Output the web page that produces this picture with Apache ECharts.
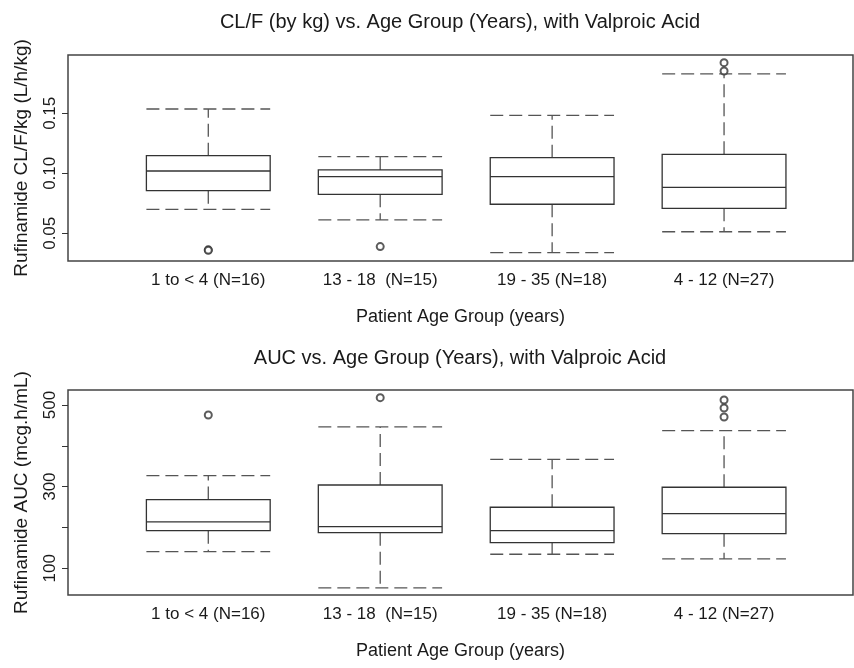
<!DOCTYPE html>
<html>
<head>
<meta charset="utf-8">
<script src="https://cdn.jsdelivr.net/npm/echarts@6/dist/echarts.min.js"></script>
<style>
  html, body { margin: 0; padding: 0; background: #fff; }
  #chart { width: 854px; height: 668px; }
</style>
</head>
<body>
<div id="chart"></div>
<script>
// age groups, in the order they are plotted
var categories = ['1 to < 4 (N=16)', '13 - 18  (N=15)', '19 - 35 (N=18)', '4 - 12 (N=27)'];

// CL/F per kg: whisker ends, quartiles, median
var clfMin = [0.0700, 0.0611, 0.0338, 0.0513];
var clfQ1 = [0.0855, 0.0825, 0.0742, 0.0708];
var clfMed = [0.1019, 0.0972, 0.0972, 0.0883];
var clfQ3 = [0.1147, 0.1028, 0.1130, 0.1158];
var clfMax = [0.1536, 0.1139, 0.1483, 0.1828];
var clfOutliers = [[0, 0.0362], [0, 0.0358], [1, 0.0389], [3, 0.1853], [3, 0.1922]];
var clfTicks = [0.05, 0.10, 0.15];

// AUC
var aucMin = [140.8, 51.9, 134.4, 122.9];
var aucQ1 = [192.2, 187.3, 162.8, 184.9];
var aucMed = [213.5, 202.0, 192.2, 233.9];
var aucQ3 = [268.2, 304.0, 249.5, 298.5];
var aucMax = [326.9, 446.2, 367.0, 437.1];
var aucOutliers = [[0, 475.6], [1, 518.0], [3, 470.7], [3, 492.7], [3, 512.3]];
var aucTicks = [100, 200, 300, 400, 500];
var aucTickLabels = [100, 300, 500];

var FONT = "'Liberation Sans', Arial, sans-serif";
var TEXT = '#1a1a1a';
var BOX_FRAC = 0.72; // box width in category units

function boxRows(mn, q1, med, q3, mx) {
    var rows = [];
    for (var i = 0; i < categories.length; i++) {
        rows.push([i, mn[i], q1[i], med[i], q3[i], mx[i]]);
    }
    return rows;
}

// box solid, whiskers and staples dashed (R style)
function renderBox(params, api) {
    var i = api.value(0);
    var half = api.size([1, 0])[0] * BOX_FRAC / 2;
    var pMin = api.coord([i, api.value(1)]);
    var pQ1 = api.coord([i, api.value(2)]);
    var pMed = api.coord([i, api.value(3)]);
    var pQ3 = api.coord([i, api.value(4)]);
    var pMax = api.coord([i, api.value(5)]);
    var x = pMed[0];
    var dashed = { stroke: '#555', lineWidth: 1.3, lineDash: [13, 6], fill: null };
    var solid = { stroke: '#333', lineWidth: 1.3, fill: null };
    return {
        type: 'group',
        children: [
            { type: 'line', shape: { x1: x, y1: pQ1[1], x2: x, y2: pMin[1] }, style: dashed },
            { type: 'line', shape: { x1: x, y1: pQ3[1], x2: x, y2: pMax[1] }, style: dashed },
            { type: 'line', shape: { x1: x - half, y1: pMin[1], x2: x + half, y2: pMin[1] }, style: dashed },
            { type: 'line', shape: { x1: x - half, y1: pMax[1], x2: x + half, y2: pMax[1] }, style: dashed },
            { type: 'rect', shape: { x: x - half, y: pQ3[1], width: half * 2, height: pQ1[1] - pQ3[1] }, style: solid },
            { type: 'line', shape: { x1: x - half, y1: pMed[1], x2: x + half, y2: pMed[1] }, style: solid }
        ]
    };
}

function xAxisFor(gridIndex) {
    return {
        type: 'value',
        gridIndex: gridIndex,
        min: -0.816,
        max: 3.750,
        axisLine: { show: false, onZero: false },
        axisTick: { show: false },
        splitLine: { show: false },
        axisLabel: {
            customValues: [0, 1, 2, 3],
            formatter: function (v) { return categories[Math.round(v)]; },
            fontSize: 17, fontFamily: FONT, color: TEXT, margin: 11
        },
        name: 'Patient Age Group (years)',
        nameLocation: 'middle',
        nameGap: 47,
        nameTextStyle: { fontSize: 18, fontFamily: FONT, color: TEXT }
    };
}

function yAxisFor(gridIndex, min, max, ticks, labels, fmt, name) {
    return {
        type: 'value', gridIndex: gridIndex,
        min: min, max: max,
        axisLine: { show: false, onZero: false },
        splitLine: { show: false },
        axisTick: { show: true, customValues: ticks, length: 6, lineStyle: { color: '#333' } },
        axisLabel: {
            customValues: labels, rotate: 90, margin: 9,
            formatter: fmt,
            fontSize: 17, fontFamily: FONT, color: TEXT
        },
        name: name,
        nameLocation: 'middle', nameGap: 37,
        nameTextStyle: { fontSize: 19, fontFamily: FONT, color: TEXT }
    };
}

var chart = echarts.init(document.getElementById('chart'));
var option = {
    animation: false,
    backgroundColor: '#fff',
    title: [
        {
            text: 'CL/F (by kg) vs. Age Group (Years), with Valproic Acid',
            left: 460, top: 12, padding: 0, textAlign: 'center',
            textStyle: { fontSize: 20, fontWeight: 'normal', fontFamily: FONT, color: TEXT }
        },
        {
            text: 'AUC vs. Age Group (Years), with Valproic Acid',
            left: 460, top: 348, padding: 0, textAlign: 'center',
            textStyle: { fontSize: 20, fontWeight: 'normal', fontFamily: FONT, color: TEXT }
        }
    ],
    grid: [
        { left: 68, top: 55, width: 785, height: 206, show: true, borderColor: '#444', borderWidth: 1.5 },
        { left: 68, top: 390, width: 785, height: 205, show: true, borderColor: '#444', borderWidth: 1.5 }
    ],
    xAxis: [xAxisFor(0), xAxisFor(1)],
    yAxis: [
        yAxisFor(0, 0.0269, 0.1986, clfTicks, clfTicks,
            function (v) { return v.toFixed(2); }, 'Rufinamide CL/F/kg (L/h/kg)'),
        yAxisFor(1, 34.6, 536.7, aucTicks, aucTickLabels,
            function (v) { return String(v); }, 'Rufinamide AUC (mcg.h/mL)')
    ],
    series: [
        {
            type: 'custom', xAxisIndex: 0, yAxisIndex: 0,
            renderItem: renderBox,
            encode: { x: 0, y: [1, 2, 3, 4, 5] },
            data: boxRows(clfMin, clfQ1, clfMed, clfQ3, clfMax)
        },
        {
            type: 'scatter', xAxisIndex: 0, yAxisIndex: 0,
            symbol: 'emptyCircle', symbolSize: 7,
            itemStyle: { color: '#333', borderWidth: 1.2 },
            data: clfOutliers
        },
        {
            type: 'custom', xAxisIndex: 1, yAxisIndex: 1,
            renderItem: renderBox,
            encode: { x: 0, y: [1, 2, 3, 4, 5] },
            data: boxRows(aucMin, aucQ1, aucMed, aucQ3, aucMax)
        },
        {
            type: 'scatter', xAxisIndex: 1, yAxisIndex: 1,
            symbol: 'emptyCircle', symbolSize: 7,
            itemStyle: { color: '#333', borderWidth: 1.2 },
            data: aucOutliers
        }
    ]
};
chart.setOption(option);
</script>
</body>
</html>
